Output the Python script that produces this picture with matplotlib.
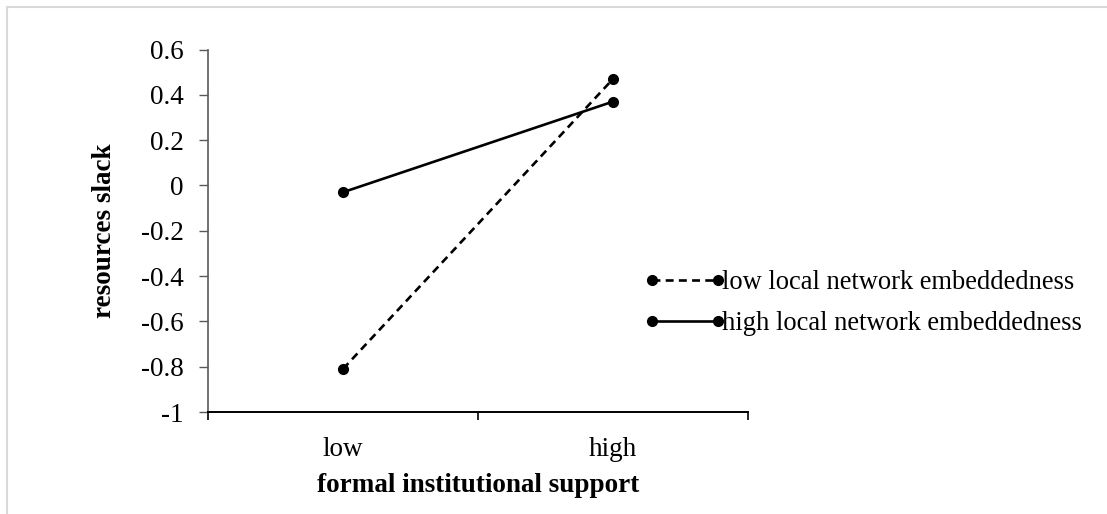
import numpy as np
import matplotlib.pyplot as plt
from matplotlib.patches import Rectangle

# Данные
categories = ["low", "high"]
low_embed = [-0.81, 0.47]    # low local network embeddedness
high_embed = [-0.03, 0.37]   # high local network embeddedness
series_names = ["low local network embeddedness", "high local network embeddedness"]
y_ticks = [-1, -0.8, -0.6, -0.4, -0.2, 0, 0.2, 0.4, 0.6]
y_ticklabels = ["-1", "-0.8", "-0.6", "-0.4", "-0.2", "0", "0.2", "0.4", "0.6"]

plt.rcParams["font.family"] = ["Liberation Serif", "DejaVu Serif"]
plt.rcParams["axes.unicode_minus"] = False
fs = 19.5

fig = plt.figure(figsize=(11.07, 5.14), dpi=100)
ax = fig.add_axes([208 / 1107, 1 - 412 / 514, 540 / 1107, (412 - 49.5) / 514])

# светло-серая рамка области диаграммы
fig.patches.append(Rectangle((7 / 1107, -0.1), 1.2, 1 - 7 / 514 + 0.1,
                             transform=fig.transFigure, fill=False,
                             edgecolor="#d9d9d9", lw=1.5))

x = np.arange(len(categories)) + 0.5
ax.plot(x, low_embed, ls=(0, (3, 2)), color="black", lw=1.9,
        marker="o", ms=7, label=series_names[0])
ax.plot(x, high_embed, ls="-", color="black", lw=1.9,
        marker="o", ms=7, label=series_names[1])

ax.set_xlim(0, len(categories))
ax.set_ylim(-1, 0.6)

# оси в стиле Excel
ax.set_xticks(np.arange(len(categories) + 1))
ax.set_xticklabels([])
ax.set_xticks(x, minor=True)
ax.set_xticklabels(categories, minor=True)
ax.tick_params(axis="x", which="major", direction="out", length=6, width=1.2)
ax.tick_params(axis="x", which="minor", length=0, pad=18, labelsize=fs)

ax.set_yticks(y_ticks)
ax.set_yticklabels(y_ticklabels)
ax.tick_params(axis="y", direction="out", length=6.5, width=1, color="#595959",
               pad=11, labelsize=fs)

for s in ["top", "right"]:
    ax.spines[s].set_visible(False)
ax.spines["left"].set_color("#595959")
ax.spines["left"].set_linewidth(1.2)
ax.spines["bottom"].set_color("black")
ax.spines["bottom"].set_linewidth(1.4)

ax.set_xlabel("formal institutional support", weight="bold", fontsize=fs, labelpad=8)
ax.set_ylabel("resources slack", weight="bold", fontsize=fs, labelpad=17)

leg = fig.legend(loc="center left", bbox_to_anchor=(644 / 1107, 1 - 303 / 514),
                 frameon=False, fontsize=19.1, numpoints=2, markerscale=1.0,
                 handlelength=3.1, handletextpad=-0.15,
                 labelspacing=0.6, borderaxespad=0, borderpad=0)

fig.savefig("out.png", dpi=100)
